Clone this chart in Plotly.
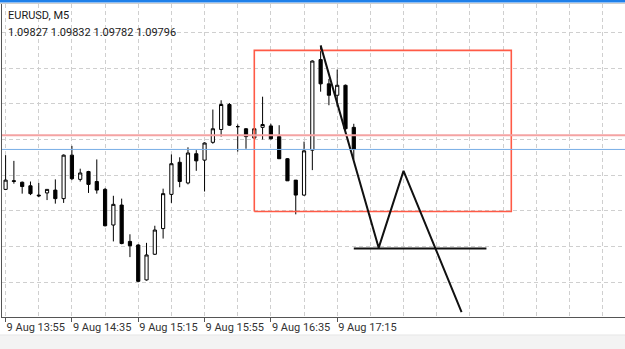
import plotly.graph_objects as go

# ---- data -------------------------------------------------------------
bars = list(range(43))
opens = [1.09740, 1.09751, 1.09750, 1.09745, 1.09732, 1.09735, 1.09739, 1.09727, 1.09788, 1.09754,
         1.09765, 1.09751, 1.09740, 1.09690, 1.09718, 1.09667, 1.09662, 1.09613, 1.09649, 1.09685,
         1.09733, 1.09778, 1.09749, 1.09790, 1.09781, 1.09806, 1.09824, 1.09859, 1.09828, 1.09825,
         1.09812, 1.09827, 1.09829, 1.09814, 1.09783, 1.09753, 1.09732, 1.09795, 1.09922, 1.09888,
         1.09872, 1.09886, 1.09827]
highs = [1.09788, 1.09780, 1.09751, 1.09751, 1.09749, 1.09740, 1.09754, 1.09789, 1.09801, 1.09769,
         1.09766, 1.09782, 1.09742, 1.09731, 1.09727, 1.09677, 1.09663, 1.09665, 1.09689, 1.09741,
         1.09789, 1.09785, 1.09799, 1.09795, 1.09806, 1.09852, 1.09865, 1.09861, 1.09831, 1.09826,
         1.09826, 1.09870, 1.09832, 1.09830, 1.09784, 1.09753, 1.09807, 1.09921, 1.09940, 1.09895,
         1.09908, 1.09887, 1.09832]
lows = [1.09739, 1.09748, 1.09734, 1.09732, 1.09729, 1.09725, 1.09720, 1.09721, 1.09753, 1.09751,
        1.09735, 1.09734, 1.09688, 1.09667, 1.09663, 1.09645, 1.09610, 1.09612, 1.09648, 1.09671,
        1.09721, 1.09743, 1.09747, 1.09766, 1.09737, 1.09804, 1.09814, 1.09829, 1.09793, 1.09797,
        1.09812, 1.09810, 1.09810, 1.09783, 1.09752, 1.09705, 1.09731, 1.09767, 1.09877, 1.09858,
        1.09856, 1.09823, 1.09782]
closes = [1.09753, 1.09752, 1.09744, 1.09734, 1.09731, 1.09740, 1.09727, 1.09788, 1.09755, 1.09763,
          1.09747, 1.09739, 1.09689, 1.09719, 1.09664, 1.09661, 1.09611, 1.09648, 1.09683, 1.09734,
          1.09776, 1.09751, 1.09791, 1.09780, 1.09805, 1.09825, 1.09859, 1.09830, 1.09828, 1.09814,
          1.09825, 1.09831, 1.09811, 1.09783, 1.09752, 1.09732, 1.09794, 1.09920, 1.09888, 1.09872,
          1.09886, 1.09825, 1.09796]

tick_bars = [0, 8, 16, 24, 32, 40]
tick_labels = ["9 Aug 13:55", "9 Aug 14:35", "9 Aug 15:15", "9 Aug 15:55", "9 Aug 16:35", "9 Aug 17:15"]

symbol_title = "EURUSD, M5"
ohlc_text = "1.09827 1.09832 1.09782 1.09796"

bid_price = 1.09796
level_price = 1.09816

rect_x = [30, 61]
rect_y = [1.09709, 1.09935]

zigzag_x = [38, 45, 48, 55]
zigzag_y = [1.09942, 1.09658, 1.09766, 1.09568]

neckline_x = [42, 58]
neckline_y = [1.09657, 1.09657]

x_range = [-0.434, 74.715]
y_range = [1.09561, 1.10000]

# ---- figure -----------------------------------------------------------
fig = go.Figure()

fig.add_trace(go.Candlestick(
    x=bars, open=opens, high=highs, low=lows, close=closes,
    increasing=dict(line=dict(color="#000000", width=1), fillcolor="#ffffff"),
    decreasing=dict(line=dict(color="#000000", width=1), fillcolor="#000000"),
    whiskerwidth=0, showlegend=False, hoverinfo="skip",
))

fig.add_trace(go.Scatter(
    x=[rect_x[0], rect_x[1], rect_x[1], rect_x[0], rect_x[0]],
    y=[rect_y[0], rect_y[0], rect_y[1], rect_y[1], rect_y[0]],
    mode="lines", line=dict(color="#ff5a46", width=1.6), showlegend=False, hoverinfo="skip",
))
fig.add_trace(go.Scatter(
    x=zigzag_x, y=zigzag_y, mode="lines",
    line=dict(color="#111111", width=2), showlegend=False, hoverinfo="skip",
))
fig.add_trace(go.Scatter(
    x=neckline_x, y=neckline_y, mode="lines",
    line=dict(color="#111111", width=2), showlegend=False, hoverinfo="skip",
))

grid_color = "#cfcfcf"

fig.update_layout(
    width=625, height=349,
    margin=dict(l=2, r=0, t=4, b=32, autoexpand=False),
    paper_bgcolor="#ffffff", plot_bgcolor="#ffffff",
    boxgap=0.45,
    font=dict(family="Roboto", size=11, color="#222222"),
    xaxis=dict(
        range=x_range, rangeslider=dict(visible=False),
        tickmode="array", tickvals=tick_bars, ticktext=tick_labels,
        ticklabelposition="outside right", tickangle=0, automargin=False,
        ticks="outside", ticklen=4, tickcolor="#555555", tickwidth=1,
        tickfont=dict(family="Roboto", size=11, color="#333333"),
        showgrid=True, gridcolor=grid_color, griddash="4px,3px", gridwidth=1,
        minor=dict(tickmode="linear", tick0=0, dtick=4, showgrid=True,
                   gridcolor=grid_color, griddash="4px,3px", gridwidth=1, ticks=""),
        showline=True, linecolor="#555555", linewidth=1,
        zeroline=False, fixedrange=True,
    ),
    yaxis=dict(
        range=y_range, tickmode="linear", tick0=1.09610, dtick=0.0005,
        showticklabels=False, ticks="", automargin=False,
        showgrid=True, gridcolor=grid_color, griddash="4px,3px", gridwidth=1,
        showline=True, linecolor="#555555", linewidth=1,
        zeroline=False, fixedrange=True,
    ),
    shapes=[
        dict(type="line", xref="paper", yref="y", x0=0, x1=1, y0=level_price, y1=level_price,
             line=dict(color="#f4a3a3", width=2), layer="above"),
        dict(type="line", xref="paper", yref="y", x0=0, x1=1, y0=bid_price, y1=bid_price,
             line=dict(color="#78aee6", width=1), layer="above"),
        dict(type="rect", xref="paper", yref="paper", x0=-0.01, x1=1.01, y0=1.0048, y1=1.02,
             line=dict(width=0), fillcolor="#1f80ea", layer="above"),
        dict(type="line", xref="paper", yref="paper", x0=-0.01, x1=1.01, y0=1.0016, y1=1.0016,
             line=dict(color="#cfcfcf", width=1), layer="above"),
        dict(type="rect", xref="paper", yref="paper", x0=-0.01, x1=1.01, y0=-0.12, y1=-0.0575,
             line=dict(width=0), fillcolor="#f3f3f3", layer="above"),
        dict(type="line", xref="paper", yref="paper", x0=-0.01, x1=1.01, y0=-0.0575, y1=-0.0575,
             line=dict(color="#e6e6e6", width=1), layer="above"),
    ],
    annotations=[
        dict(text=symbol_title, xref="paper", yref="paper", x=0.0065, y=0.9633,
             xanchor="left", yanchor="middle", showarrow=False,
             font=dict(family="Roboto", size=11, color="#1a1a1a")),
        dict(text=ohlc_text, xref="paper", yref="paper", x=0.0065, y=0.9089,
             xanchor="left", yanchor="middle", showarrow=False,
             font=dict(family="Roboto", size=11, color="#1a1a1a")),
    ],
)

fig.write_html("out.html")
